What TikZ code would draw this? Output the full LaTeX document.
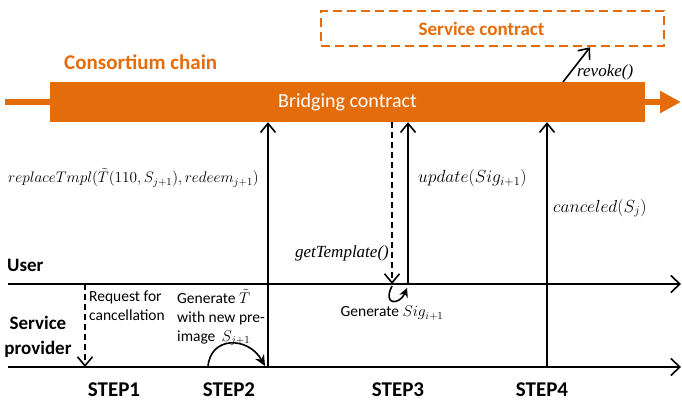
\documentclass[tikz,border=0pt]{standalone}
\usepackage{fix-cm}
\usepackage{fontspec}
\setmainfont{Carlito}
\newfontfamily\timesit{Liberation Serif}
\usetikzlibrary{arrows.meta, positioning}
\usepackage{xcolor}
\definecolor{chainorange}{RGB}{228, 108, 10}
\definecolor{textdark}{RGB}{0, 0, 0}

\begin{document}
\begin{tikzpicture}[
    x=1pt, y=-1pt,
    band/.style={rectangle, fill=chainorange, minimum width=595pt, minimum height=40pt, inner sep=0pt, text=white, font=\fontsize{20}{24}\selectfont},
    contract/.style={rectangle, draw=chainorange, dash pattern=on 9pt off 5pt, line width=2.5pt, minimum width=343pt, minimum height=35pt, text=chainorange, font=\fontsize{19}{23}\selectfont\bfseries},
    chainline/.style={draw=chainorange, line width=6pt},
    lane/.style={line width=1.6pt, color=textdark, -{Straight Barb[length=9pt, width=17pt]}},
    call/.style={line width=1.6pt, color=textdark, -{Straight Barb[length=9pt, width=15pt]}},
    callback/.style={call, dash pattern=on 6pt off 4pt},
    selfloop/.style={line width=1.6pt, color=textdark, -{Stealth[length=11pt, width=10pt]}},
    fn/.style={inner sep=0pt, font=\fontsize{17.5}{20}\selectfont},
    fnit/.style={inner sep=0pt, font=\fontsize{17}{20}\selectfont\timesit\itshape},
    note/.style={inner sep=0pt, align=left, font=\fontsize{15.5}{19}\selectfont},
    actor/.style={inner sep=0pt, align=center, font=\fontsize{19}{25}\selectfont\bfseries},
    steplabel/.style={inner sep=0pt, font=\fontsize{21}{25}\selectfont\bfseries},
]
\useasboundingbox (0,0) rectangle (682,407);

% Consortium chain
\node[band] (bridge) at (347.5,102) {Bridging contract};
\node[anchor=west, inner sep=0pt, text=chainorange, font=\fontsize{21}{25}\selectfont\bfseries] (chain) at (64,62) {Consortium chain};
\coordinate (chainin) at (5,102);
\coordinate (chainout) at (681,102);
\draw[chainline] (chainin) -- (bridge.west);
\draw[chainline, -{Triangle[length=21pt, width=21pt]}] (bridge.east) -- (chainout);

% Service contract
\node[contract] (svc) at (492.5,28.5) {Service contract\hspace*{22pt}};
\coordinate (revfrom) at (563,82);
\draw[call] (revfrom) -- (svc.south -| 590,0);
\node[fnit, anchor=west] (revoke) at (577,72) {revoke()};

% Lanes
\coordinate (userL) at (8,284);
\coordinate (userR) at (681,284);
\coordinate (provL) at (8,367);
\coordinate (provR) at (681,367);
\draw[lane] (userL) -- (userR);
\draw[lane] (provL) -- (provR);
\node[actor, anchor=west] (user) at (7,265) {User};
\node[actor] (provider) at (38,337) {Service\\provider};

% STEP1
\coordinate (s1u) at (85,284);
\coordinate (s1p) at (85,367);
\draw[callback] (s1u) -- (s1p);
\node[note, anchor=north west] (cancel) at (89,291) {Request for\\cancellation};

% STEP2
\coordinate (s2p) at (268,367);
\draw[call] (s2p) -- (s2p |- bridge.south);
\node[fn, anchor=west, font=\fontsize{15.3}{18}\selectfont] (replace) at (8,178) {$replaceTmpl\big(\tilde{T}(110,S_{j+1}),redeem_{j+1}\big)$};
\node[note, anchor=north west] (gent) at (177,289) {Generate $\tilde{T}$\\with new pre-\\image \,$S_{j+1}$};
\coordinate (gen2a) at (208,367);
\coordinate (gen2b) at (265,366);
\draw[selfloop] (gen2a) .. controls (210,336) and (248,336) .. (gen2b);

% STEP3
\coordinate (s3d) at (392,284);
\coordinate (s3u) at (408,284);
\draw[callback] (s3d |- bridge.south) -- (s3d);
\draw[call] (s3u) -- (s3u |- bridge.south);
\node[fnit, anchor=east] (gettmpl) at (389,253) {getTemplate()};
\node[fn, anchor=west] (update) at (418,178) {$update(Sig_{i+1})$};
\coordinate (gen3a) at (392,286);
\coordinate (gen3b) at (407,288);
\draw[selfloop, -{Stealth[length=9pt, width=9pt]}] (gen3a) .. controls (382,306) and (400,305) .. (gen3b);
\node[note] (gensig) at (392,313) {Generate $Sig_{i+1}$};

% STEP4
\coordinate (s4p) at (547,367);
\draw[call] (s4p) -- (s4p |- bridge.south);
\node[fn, anchor=west] (canceled) at (553,208) {$canceled(S_j)$};

% Steps
\node[steplabel] (st1) at (114,390) {STEP1};
\node[steplabel] (st2) at (229,390) {STEP2};
\node[steplabel] (st3) at (398,390) {STEP3};
\node[steplabel] (st4) at (542,390) {STEP4};

\end{tikzpicture}
\end{document}
